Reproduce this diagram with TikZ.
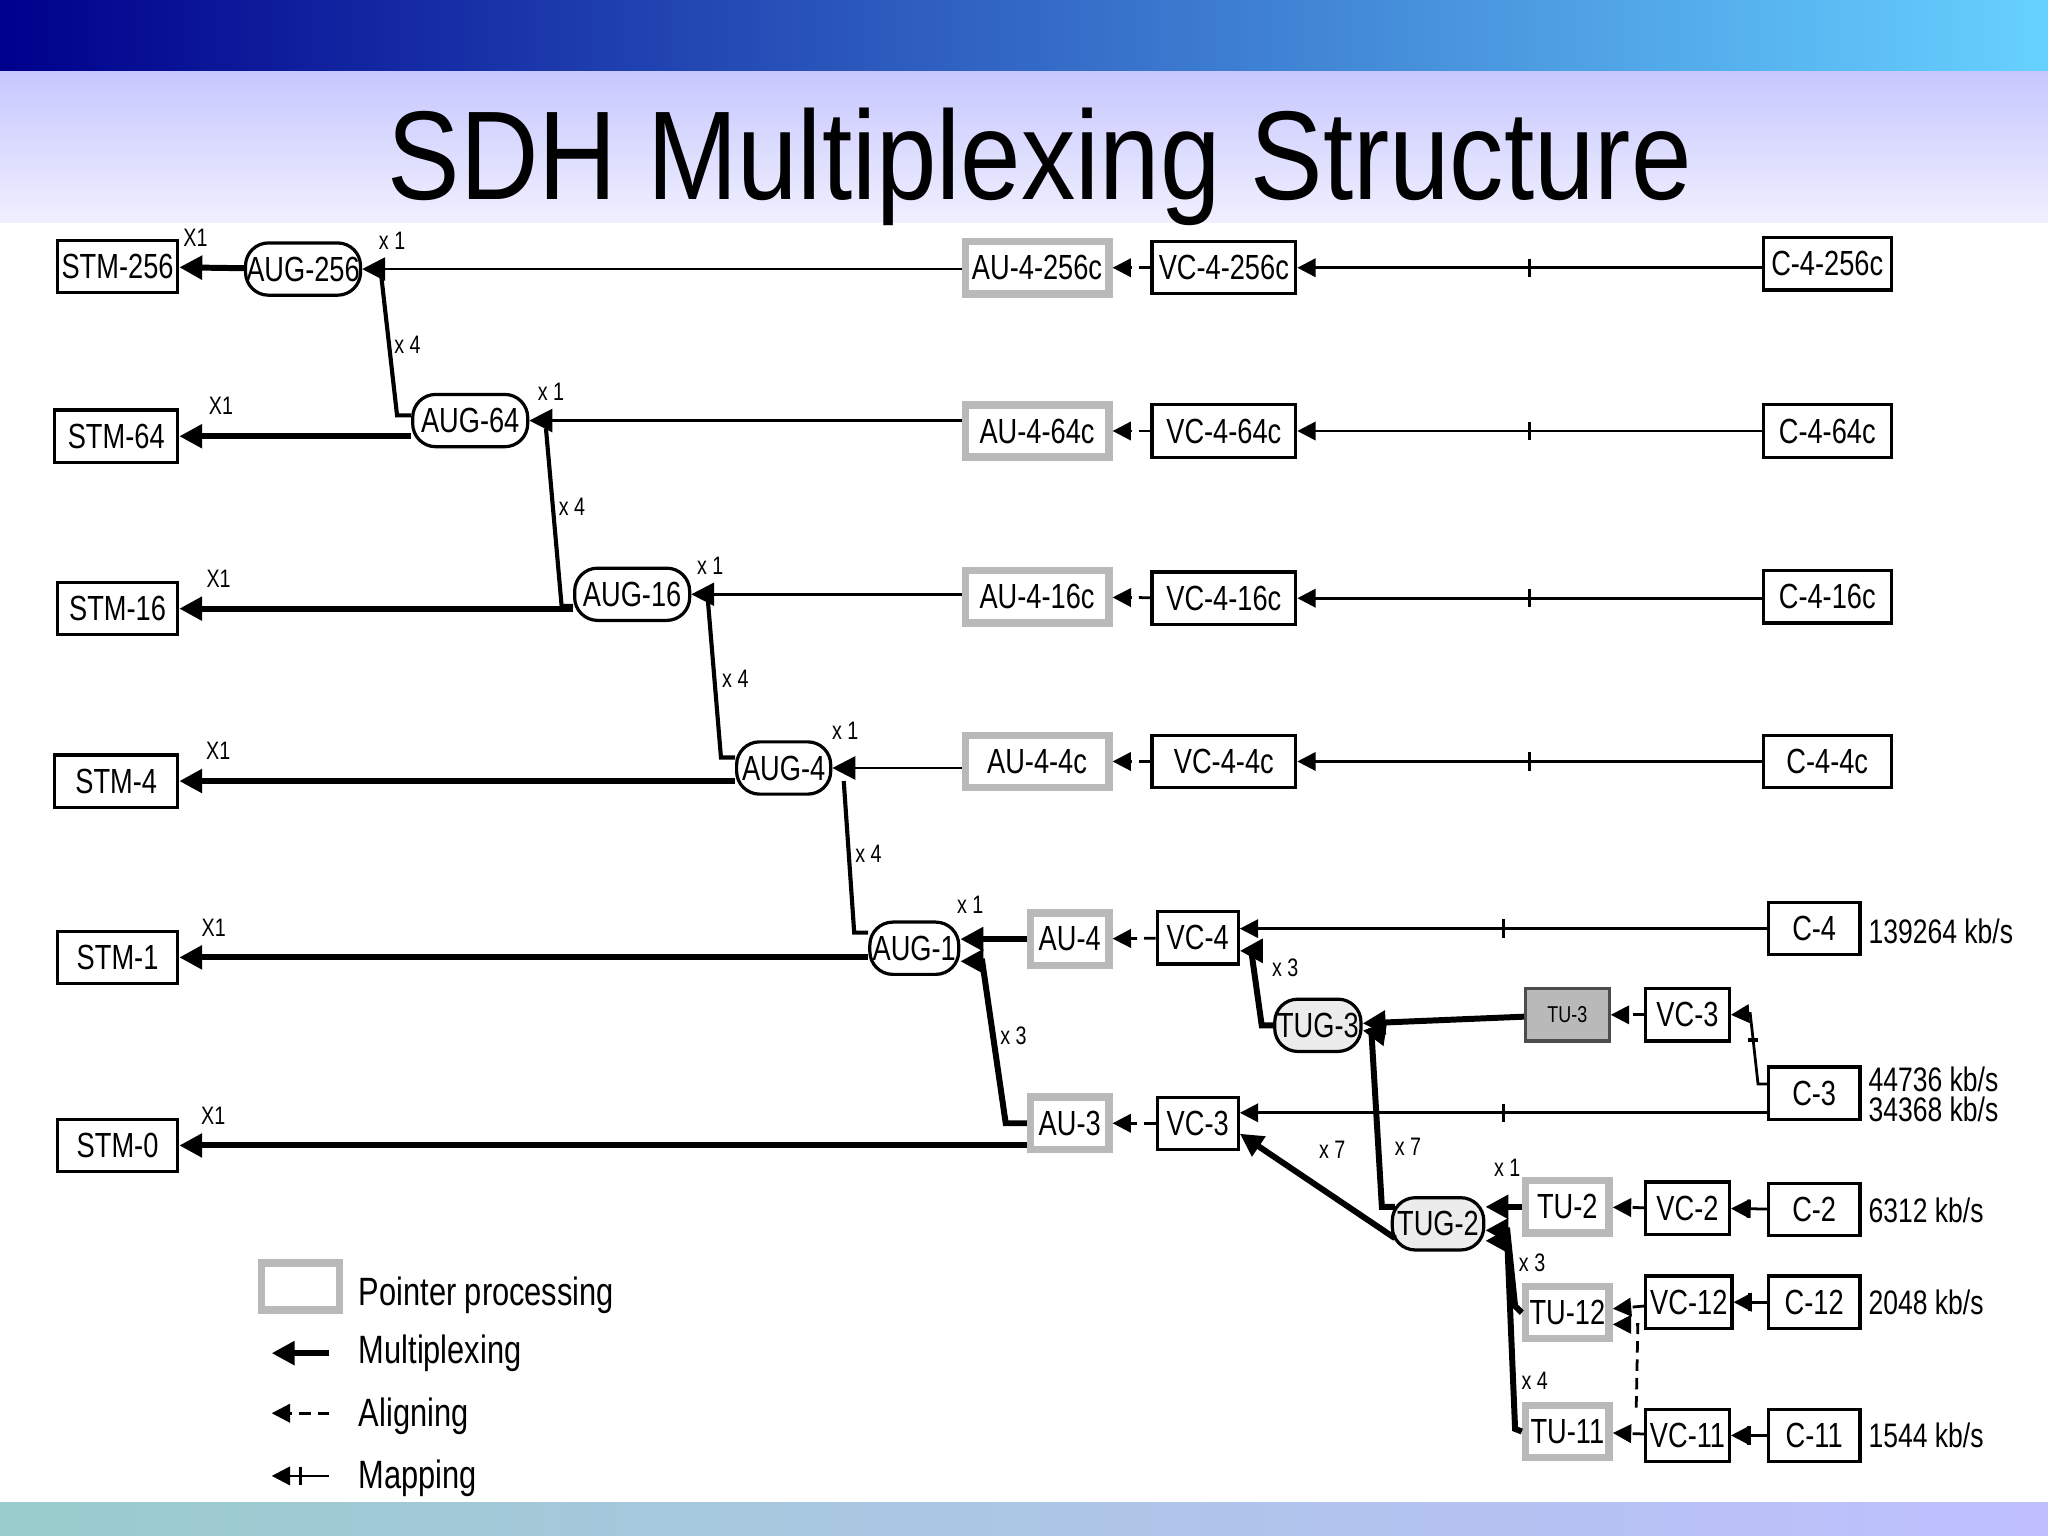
\documentclass[tikz,border=0pt]{standalone}
\usepackage{fontspec}
\setmainfont{Liberation Sans}
\newfontfamily\nar[FakeStretch=0.78]{Liberation Sans}
\newfontfamily\tit[FakeStretch=0.86]{Liberation Sans}
\usetikzlibrary{arrows.meta,decorations.markings,calc}
\begin{document}
\begin{tikzpicture}[x=0.01cm,y=-0.01cm,
 bx/.style={draw,line width=0.7pt,fill=white,inner sep=0pt,font=\nar\fontsize{7.6}{7.6}\selectfont,minimum height=0.4cm},
 ptr/.style={bx,draw=gray!55,line width=1.6pt},
 tuf/.style={bx,fill=gray!55,draw=black!70,font=\nar\fontsize{5}{5}\selectfont},
 rb/.style={bx,rounded corners=5pt},
 lab/.style={font=\nar\fontsize{5.5}{5.5}\selectfont,inner sep=1pt},
 rate/.style={font=\nar\fontsize{7.4}{7.4}\selectfont,anchor=west,inner sep=0pt},
 mux/.style={line width=1.3pt,-{Triangle[length=5pt,width=5pt]}},
 muxt/.style={line width=0.6pt,-{Triangle[length=5pt,width=5pt]}},
 aln/.style={line width=0.6pt,dash pattern=on 2.5pt off 1.5pt,-{Triangle[length=4pt,width=4pt]}},
 mapg/.style={line width=0.6pt,-{Triangle[length=4pt,width=4pt]},postaction={decorate},
   decoration={markings,mark=at position 0.5 with {\draw[-,solid,line width=0.8pt] (0,-2pt)--(0,2pt);}}},
 ln/.style={line width=0.9pt}]
\useasboundingbox (0,0) rectangle (1568,1176);
% background
\fill[white] (0,0) rectangle (1568,1176);
\shade[left color=blue!55!black,right color=blue!30!cyan!60!white] (0,0) rectangle (1568,55);
\shade[top color=blue!22!white,bottom color=blue!6!white] (0,55) rectangle (1568,170);
\shade[left color=teal!40!white,right color=blue!25!white] (0,1150) rectangle (1568,1176);
\node[font=\tit\fontsize{27.5}{27.5}\selectfont] (title) at (796,128) {SDH Multiplexing Structure};
% STM
\node[bx,minimum width=0.92cm] (stm256) at (90,204) {STM-256};
\node[bx,minimum width=0.94cm] (stm64) at (89,334) {STM-64};
\node[bx,minimum width=0.92cm] (stm16) at (90,466) {STM-16};
\node[bx,minimum width=0.94cm] (stm4) at (89,598) {STM-4};
\node[bx,minimum width=0.92cm] (stm1) at (90,733) {STM-1};
\node[bx,minimum width=0.92cm] (stm0) at (90,877) {STM-0};
% AUG
\node[rb,minimum width=0.88cm] (aug256) at (232,206) {AUG-256};
\node[rb,minimum width=0.88cm] (aug64) at (360,322) {AUG-64};
\node[rb,minimum width=0.88cm] (aug16) at (484,455) {AUG-16};
\node[rb,minimum width=0.72cm] (aug4) at (600,588) {AUG-4};
\node[rb,minimum width=0.68cm] (aug1) at (700,726) {AUG-1};
% AU
\node[ptr,minimum width=1.1cm] (au256) at (794,205) {AU-4-256c};
\node[ptr,minimum width=1.1cm] (au64) at (794,330) {AU-4-64c};
\node[ptr,minimum width=1.1cm] (au16) at (794,457) {AU-4-16c};
\node[ptr,minimum width=1.1cm] (au4c) at (794,583) {AU-4-4c};
\node[ptr,minimum width=0.6cm] (au4) at (819,719) {AU-4};
\node[ptr,minimum width=0.6cm] (au3) at (819,860) {AU-3};
% VC
\node[bx,minimum width=1.1cm] (vc256) at (937,205) {VC-4-256c};
\node[bx,minimum width=1.1cm] (vc64) at (937,330) {VC-4-64c};
\node[bx,minimum width=1.1cm] (vc16) at (937,458) {VC-4-16c};
\node[bx,minimum width=1.1cm] (vc4c) at (937,583) {VC-4-4c};
\node[bx,minimum width=0.62cm] (vc4) at (917,718) {VC-4};
\node[bx,minimum width=0.62cm] (vc3) at (917,860) {VC-3};
% C
\node[bx,minimum width=0.98cm] (c256) at (1399,202) {C-4-256c};
\node[bx,minimum width=0.98cm] (c64) at (1399,330) {C-4-64c};
\node[bx,minimum width=0.98cm] (c16) at (1399,457) {C-4-16c};
\node[bx,minimum width=0.98cm] (c4c) at (1399,583) {C-4-4c};
\node[bx,minimum width=0.7cm] (c4) at (1389,711) {C-4};
\node[rate] (r4) at (1430,713) {139264 kb/s};
\node[tuf,minimum width=0.64cm] (tu3) at (1200,777) {TU-3};
\node[bx,minimum width=0.64cm] (vc3r) at (1292,777) {VC-3};
\node[bx,minimum width=0.7cm] (c3) at (1389,837) {C-3};
\node[rate] (r3a) at (1430,826) {44736 kb/s};
\node[rate] (r3b) at (1430,849) {34368 kb/s};
\node[rb,minimum width=0.66cm,fill=gray!15] (tug3) at (1009,785) {TUG-3};
\node[rb,minimum width=0.7cm,fill=gray!15] (tug2) at (1101,937) {TUG-2};
\node[ptr,minimum width=0.64cm] (tu2) at (1200,924) {TU-2};
\node[bx,minimum width=0.64cm] (vc2) at (1292,925) {VC-2};
\node[bx,minimum width=0.7cm] (c2) at (1389,926) {C-2};
\node[rate] (r2) at (1430,927) {6312 kb/s};
\node[ptr,minimum width=0.64cm] (tu12) at (1200,1005) {TU-12};
\node[bx,minimum width=0.66cm] (vc12) at (1293,997) {VC-12};
\node[bx,minimum width=0.7cm] (c12) at (1389,997) {C-12};
\node[rate] (r12) at (1430,997) {2048 kb/s};
\node[ptr,minimum width=0.64cm] (tu11) at (1200,1096) {TU-11};
\node[bx,minimum width=0.64cm] (vc11) at (1292,1099) {VC-11};
\node[bx,minimum width=0.7cm] (c11) at (1389,1099) {C-11};
\node[rate] (r11) at (1430,1099) {1544 kb/s};
% STM links
\draw[mux] (aug256) -- (stm256) node[lab,pos=0.75,above=3pt]{X1};
\draw[mux] (aug64.west|-stm64) -- (stm64.east) node[lab,pos=0.82,above=3pt]{X1};
\draw[mux] (aug16.west|-stm16) -- (stm16.east) node[lab,pos=0.9,above=3pt]{X1};
\draw[mux] (aug4.west|-stm4) -- (stm4.east) node[lab,pos=0.93,above=3pt]{X1};
\draw[mux] (aug1.west|-stm1) -- (stm1.east) node[lab,pos=0.95,above=3pt]{X1};
\draw[mux] (au3.west|-stm0) -- (stm0.east) node[lab,pos=0.96,above=3pt]{X1};
% AU to AUG
\draw[muxt] (au256.west|-aug256.east) -- (aug256.east) node[lab,pos=0.95,above=3pt]{x 1};
\draw[muxt] (au64.west|-aug64.east) -- (aug64.east) node[lab,pos=0.95,above=3pt]{x 1};
\draw[muxt] (au16.west|-aug16.east) -- (aug16.east) node[lab,pos=0.93,above=3pt]{x 1};
\draw[muxt] (au4c.west|-aug4.east) -- (aug4.east) node[lab,pos=0.9,above=5pt]{x 1};
\draw[mux] (au4.west) -- (aug1.east|-au4) node[lab,pos=0.85,above=4pt]{x 1};
% AUG cascades
\coordinate (k1) at (292,212);
\draw[ln] (k1) -- (304,318) -- (aug64.west|-0,318);
\node[lab] (l1) at (312,264) {x 4};
\coordinate (k2) at (418,328);
\draw[ln] (k2) -- (430,464) -- (aug16.west|-0,464);
\node[lab] (l2) at (438,388) {x 4};
\coordinate (k3) at (542,460);
\draw[ln] (k3) -- (552,580) -- (aug4.west|-0,580);
\node[lab] (l3) at (563,520) {x 4};
\coordinate (k4) at (646,598);
\draw[ln] (k4) -- (654,714) -- (aug1.west|-0,714);
\node[lab] (l4) at (665,654) {x 4};
\draw[mux] (au3.west) -- (770,860) -- (752,736) -- ($(aug1.east)+(0,10)$);
\node[lab] (l5) at (776,793) {x 3};
% aligning
\draw[aln] (vc256) -- (au256);
\draw[aln] (vc64) -- (au64);
\draw[aln] (vc16) -- (au16);
\draw[aln] (vc4c) -- (au4c);
\draw[aln] (vc4) -- (au4);
\draw[aln] (vc3) -- (au3);
\draw[aln] (vc3r) -- (tu3);
\draw[aln] (vc2) -- (tu2);
\draw[aln] (vc12) -- (tu12);
\draw[aln] (vc11) -- (tu11);
\draw[aln] (vc11.north west) ++(-6,0) -- (1254,1014) -- ($(tu12.east)+(0,9)$);
% mapping
\draw[mapg] (c256.west|-vc256) -- (vc256.east);
\draw[mapg] (c64.west|-vc64) -- (vc64.east);
\draw[mapg] (c16.west|-vc16) -- (vc16.east);
\draw[mapg] (c4c.west|-vc4c) -- (vc4c.east);
\draw[mapg] (c4.west) -- (vc4.east|-c4);
\draw[mapg] (c3.west|-0,852) -- ($(vc3.east)+(0,-8)$);
\draw[line width=0.6pt,-{Triangle[length=4pt,width=4pt]}] (c3.west|-0,830) -- (1346,830) -- (1340,776) -- (vc3r.east);
\draw[line width=0.8pt] (1338,796)--(1346,796);
\draw[mapg] (c2) -- (vc2);
\draw[mapg] (c12) -- (vc12);
\draw[mapg] (c11) -- (vc11);
% TUG
\draw[mux] (tu3) -- (tug3);
\draw[mux] (tug3.west) -- (966,785) -- (958,728) -- ($(vc4.east)+(0,10)$);
\node[lab] (l6) at (984,741) {x 3};
\draw[mux] (1068,948) -- ($(vc3.east)+(0,8)$);
\node[lab] (l7) at (1020,880) {x 7};
\draw[mux] (1068,924) -- (1058,924) -- (1050,790) -- ($(tug3.east)+(0,4)$);
\node[lab] (l8) at (1078,878) {x 7};
\draw[mux] (tu2.west) -- (tug2.east|-tu2) node[lab,pos=0.4,above=5pt]{x 1};
\draw[mux] (tu12.west) -- (1160,1000) -- (1154,942) -- ($(tug2.east)+(0,5)$);
\node[lab] (l9) at (1173,967) {x 3};
\draw[mux] (tu11.west) -- (1160,1094) -- (1154,950) -- ($(tug2.east)+(0,13)$);
\node[lab] (l10) at (1175,1057) {x 4};
% legend
\node[ptr,minimum width=0.6cm,minimum height=0.36cm] (lg1) at (230,985) {};
\node[rate,font=\nar\fontsize{8.6}{8.6}\selectfont] (lt1) at (274,992) {Pointer processing};
\coordinate (m1a) at (252,1036); \coordinate (m1b) at (208,1036);
\draw[mux] (m1a) -- (m1b);
\node[rate,font=\nar\fontsize{8.6}{8.6}\selectfont] (lt2) at (274,1036) {Multiplexing};
\coordinate (m2a) at (252,1082); \coordinate (m2b) at (208,1082);
\draw[aln] (m2a) -- (m2b);
\node[rate,font=\nar\fontsize{8.6}{8.6}\selectfont] (lt3) at (274,1084) {Aligning};
\coordinate (m3a) at (252,1130); \coordinate (m3b) at (208,1130);
\draw[mapg] (m3a) -- (m3b);
\node[rate,font=\nar\fontsize{8.6}{8.6}\selectfont] (lt4) at (274,1132) {Mapping};
\end{tikzpicture}
\end{document}
